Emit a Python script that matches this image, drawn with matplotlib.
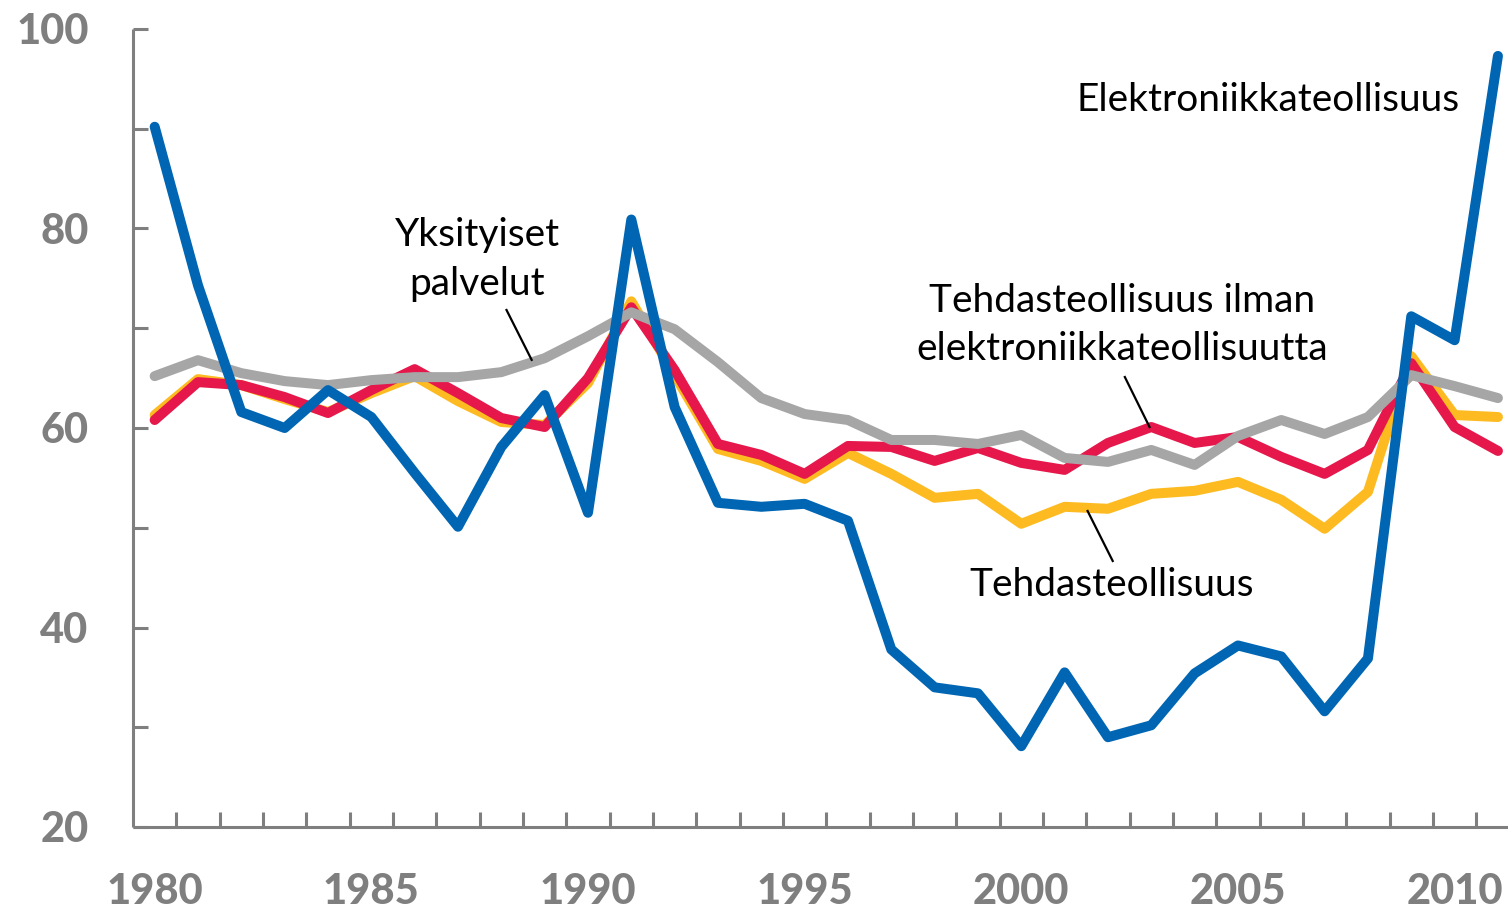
import matplotlib
matplotlib.use("Agg")
import matplotlib.pyplot as plt
from matplotlib.ticker import MultipleLocator, FixedLocator, NullFormatter

years = list(range(1980, 2012))

elektroniikka = [90.2, 74.3, 61.6, 60.0, 63.8, 61.1, 55.5, 50.1, 58.1, 63.3,
                 51.5, 80.9, 62.1, 52.5, 52.1, 52.4, 50.7, 37.8, 34.0, 33.4,
                 28.1, 35.5, 29.0, 30.2, 35.4, 38.2, 37.1, 31.6, 36.9, 71.2,
                 68.8, 97.3]

ilman_elektr = [60.8, 64.6, 64.3, 63.1, 61.5, 63.8, 65.9, 63.5, 61.0, 60.1,
                65.0, 72.1, 65.8, 58.4, 57.3, 55.4, 58.2, 58.1, 56.7, 58.0,
                56.5, 55.8, 58.5, 60.1, 58.5, 59.1, 57.1, 55.4, 57.8, 66.5,
                60.1, 57.7]

tehdas = [61.3, 64.9, 64.3, 62.9, 61.6, 63.5, 65.2, 62.7, 60.6, 60.3,
          64.5, 72.7, 65.3, 57.9, 56.7, 54.9, 57.5, 55.4, 53.0, 53.4,
          50.4, 52.1, 51.9, 53.4, 53.7, 54.6, 52.8, 49.9, 53.6, 67.2,
          61.3, 61.1]

palvelut = [65.2, 66.8, 65.5, 64.7, 64.3, 64.8, 65.1, 65.1, 65.6, 67.0,
            69.2, 71.6, 69.9, 66.6, 63.0, 61.4, 60.8, 58.8, 58.8, 58.4,
            59.3, 57.0, 56.6, 57.8, 56.3, 59.2, 60.8, 59.4, 61.1, 65.3,
            64.2, 63.0]

x_labels = ["1980", "1985", "1990", "1995", "2000", "2005", "2010"]
y_labels = ["20", "40", "60", "80", "100"]

BLUE = "#0066B3"
RED = "#E5174B"
YELLOW = "#FDBB21"
GRAY = "#A6A6A6"
AXGRAY = "#7F7F7F"

W, H = 1508, 909
fig = plt.figure(figsize=(W / 100, H / 100), dpi=100)
ax = fig.add_axes([133 / W, 82 / H, 1386.6 / W, 798 / H])

lw = 7.2
common = dict(linewidth=lw, solid_capstyle="round", solid_joinstyle="round")
ax.plot(years, tehdas, color=YELLOW, zorder=2, **common)
ax.plot(years, ilman_elektr, color=RED, zorder=3, **common)
ax.plot(years, palvelut, color=GRAY, zorder=4, **common)
ax.plot(years, elektroniikka, color=BLUE, zorder=5, **common)

ax.set_xlim(1979.5, 2011.5)
ax.set_ylim(20, 100)

for s in ["top", "right"]:
    ax.spines[s].set_visible(False)
for s in ["left", "bottom"]:
    ax.spines[s].set_color(AXGRAY)
    ax.spines[s].set_linewidth(2.2)
    ax.spines[s].set_capstyle("butt")

# y ticks
ax.yaxis.set_major_locator(FixedLocator([int(v) for v in y_labels]))
ax.set_yticklabels(y_labels)
ax.yaxis.set_minor_locator(MultipleLocator(10))
ax.tick_params(axis="y", which="both", direction="in", length=11, width=2.2,
               color=AXGRAY, pad=32)
# x ticks
ax.xaxis.set_major_locator(FixedLocator([int(v) for v in x_labels]))
ax.set_xticklabels(x_labels)
ax.xaxis.set_minor_locator(FixedLocator([y + 0.5 for y in years[:-1]]))
ax.xaxis.set_minor_formatter(NullFormatter())
ax.tick_params(axis="x", which="major", length=0, pad=33)
ax.tick_params(axis="x", which="minor", direction="in", length=10.5, width=2.2,
               color=AXGRAY)

for lab in ax.get_xticklabels() + ax.get_yticklabels():
    lab.set_fontfamily("Lato")
    lab.set_fontweight("black")
    lab.set_fontsize(30)
    lab.set_color(AXGRAY)

tfont = dict(family="Lato", fontsize=28, color="black")
ax.text(2010.12, 92.9, "Elektroniikkateollisuus", ha="right", va="center", **tfont)
ax.text(1987.45, 76.9, "Yksityiset\npalvelut", ha="center", va="center",
        multialignment="center", linespacing=1.45, **tfont)
ax.text(2002.32, 70.3, "Tehdasteollisuus ilman\nelektroniikkateollisuutta",
        ha="center", va="center", multialignment="center", linespacing=1.4, **tfont)
ax.text(2002.09, 44.3, "Tehdasteollisuus", ha="center", va="center", **tfont)

leaders = [((1988.12, 71.83), (1988.70, 66.83)),
           ((2002.39, 65.11), (2002.96, 60.10)),
           ((2001.53, 51.68), (2002.11, 46.67))]
for (x0, y0), (x1, y1) in leaders:
    ax.plot([x0, x1], [y0, y1], color="black", linewidth=1.6, zorder=6)

fig.savefig("out.png", dpi=100)
